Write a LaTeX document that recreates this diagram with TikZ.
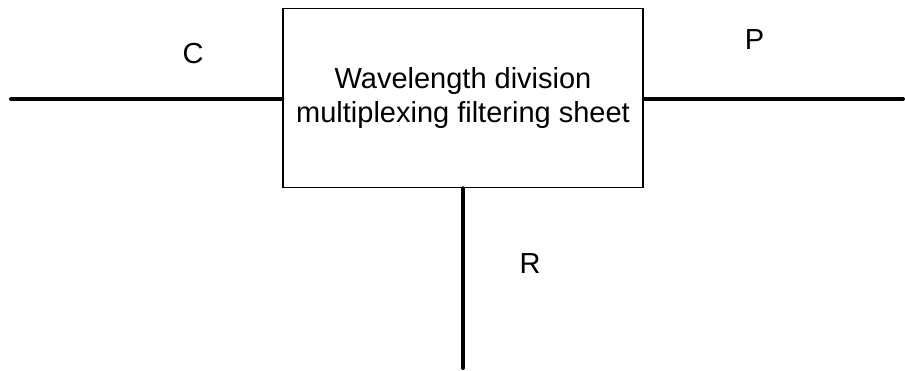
\documentclass[tikz,border=0pt]{standalone}
\usepackage{fontspec}
\setmainfont{Liberation Sans}
\begin{document}
\begin{tikzpicture}[x=1pt,y=-1pt,
  wire/.style={line width=4pt,line cap=round},
  boxst/.style={draw,line width=1.5pt,minimum width=360pt,minimum height=179pt,inner sep=0pt,align=center,font=\fontsize{29}{34}\selectfont},
  lbl/.style={font=\fontsize{29}{34}\selectfont,inner sep=0pt}]
\useasboundingbox (0,0) rectangle (905,371);
\node[boxst] (wdm) at (463,98) {Wavelength division\\multiplexing filtering sheet};
\coordinate (lend) at (11,99);
\coordinate (rend) at (903,99);
\coordinate (bend) at (463,368);
\draw[wire] (lend) -- (lend -| wdm.west);
\draw[wire] (wdm.east |- rend) -- (rend);
\draw[wire] (wdm.south) -- (bend);
\node[lbl,anchor=base] (c) at (193,63.3) {C};
\node[lbl,anchor=base] (p) at (754.5,49.3) {P};
\node[lbl,anchor=base] (r) at (530,274) {R};
\end{tikzpicture}
\end{document}
